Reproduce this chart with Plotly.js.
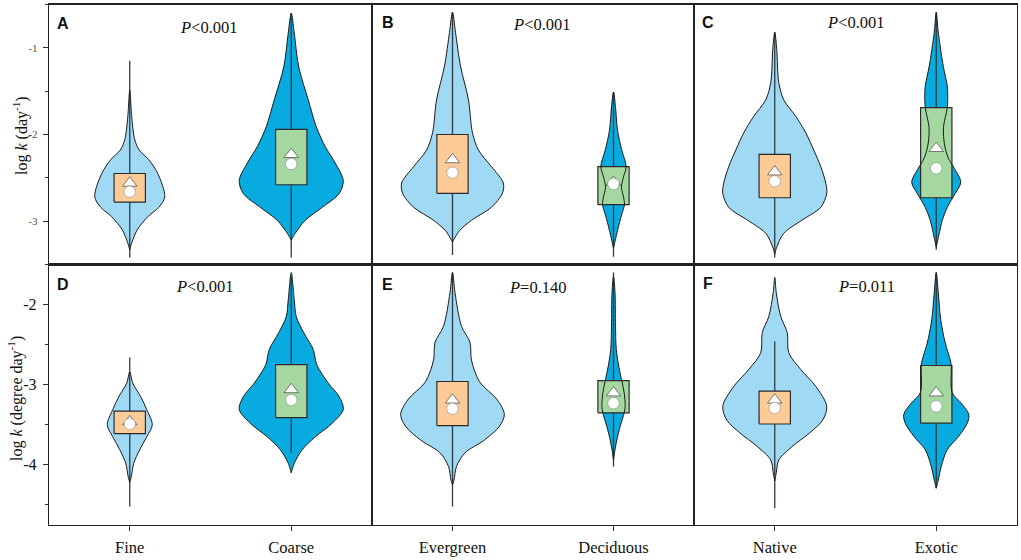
<!DOCTYPE html>
<html><head><meta charset="utf-8">
<script src="https://cdn.plot.ly/plotly-3.0.1.min.js"></script>
<style>html,body{margin:0;padding:0;background:#fff}#chart{width:1021px;height:560px}</style>
</head><body><div id="chart"></div>
<script>
// ---------- categories ----------
const catsCol1 = ['Fine', 'Coarse'];
const catsCol2 = ['Evergreen', 'Deciduous'];
const catsCol3 = ['Native', 'Exotic'];
const panelLetters = ['A', 'B', 'C', 'D', 'E', 'F'];
const pTexts = ['<i>P</i>&lt;0.001', '<i>P</i>&lt;0.001', '<i>P</i>&lt;0.001', '<i>P</i>&lt;0.001', '<i>P</i>=0.140', '<i>P</i>=0.011'];
const yTicksTop = [-3, -2, -1];
const yTickTextTop = ['-3', '-2', '-1'];
const yTicksBottom = [-4, -3, -2];
const yTickTextBottom = ['-4', '-3', '-2'];

// ---------- violin outlines (level, relative half-width) ----------
const vA1y = [-1.49, -1.80, -2.06, -2.18, -2.29, -2.45, -2.72, -2.84, -2.95, -3.10, -3.25, -3.33];
const vA1w = [0, 2, 5, 9.5, 19, 28, 35, 29, 18, 7.5, 2, 0];
const vA2y = [-0.60, -0.83, -1.22, -1.60, -1.91, -2.14, -2.33, -2.53, -2.68, -2.84, -2.99, -3.14, -3.22];
const vA2w = [0, 3, 7.5, 17, 25, 34, 44, 52, 48, 31, 14, 4, 0];
const vB1y = [-0.59, -0.82, -1.21, -1.60, -1.98, -2.18, -2.37, -2.56, -2.68, -2.84, -2.99, -3.11, -3.24];
const vB1w = [0, 3, 8, 16, 20, 26, 39, 51, 50, 39, 19, 7, 0];
const vB2y = [-1.51, -1.68, -1.95, -2.18, -2.37, -2.49, -2.61, -2.72, -2.81, -2.93, -3.11, -3.31];
const vB2w = [0, 2, 4, 8.3, 12.7, 10, 8, 10, 11, 8, 4, 0];
const vC1y = [-0.82, -1.02, -1.40, -1.60, -1.79, -1.98, -2.18, -2.37, -2.56, -2.68, -2.84, -2.99, -3.14, -3.30, -3.38];
const vC1w = [0, 2, 4, 9, 21, 31, 39, 46, 51, 52, 46, 27, 9, 2, 0];
const vC2y = [-0.59, -0.82, -1.21, -1.44, -1.54, -1.69, -1.92, -2.12, -2.27, -2.39, -2.55, -2.68, -2.84, -2.99, -3.14, -3.30];
const vC2w = [0, 2, 7, 11, 11.5, 11, 7.2, 8.3, 12, 18, 24.5, 19, 11, 6, 3, 0];
const vD1y = [-2.84, -2.98, -3.15, -3.31, -3.50, -3.65, -3.81, -3.98, -4.15, -4.22];
const vD1w = [0, 3, 11, 17, 22.5, 17, 10, 4, 1.5, 0];
const vD2y = [-1.60, -1.94, -2.15, -2.35, -2.56, -2.75, -2.98, -3.15, -3.31, -3.48, -3.65, -3.81, -3.98, -4.10];
const vD2w = [0, 3, 5, 12.5, 22, 25.5, 37, 48, 52, 41, 24, 11, 3, 0];
const vE1y = [-1.60, -1.85, -2.27, -2.47, -2.69, -2.96, -3.19, -3.37, -3.52, -3.69, -3.85, -4.02, -4.19, -4.25];
const vE1w = [0, 2.5, 9, 17.5, 19, 27, 45, 52, 47, 32, 12.5, 4, 1.5, 0];
const vE2y = [-1.65, -1.85, -2.27, -2.56, -2.77, -2.95, -3.10, -3.27, -3.35, -3.52, -3.69, -3.81, -3.94];
const vE2w = [0, 1.5, 2, 2.8, 5.3, 8.3, 10.7, 11.7, 10.7, 6.7, 3.3, 1.5, 0];
const vF1y = [-1.66, -1.85, -2.15, -2.35, -2.60, -2.81, -3.02, -3.27, -3.44, -3.60, -3.77, -3.94, -4.10, -4.20];
const vF1w = [0, 1.5, 6, 12.5, 14, 26, 41, 52, 48, 35, 17.5, 4, 1.5, 0];
const vF2y = [-1.60, -1.85, -2.19, -2.48, -2.69, -2.76, -3.10, -3.23, -3.37, -3.48, -3.65, -3.81, -4.02, -4.19, -4.29];
const vF2w = [0, 2, 4.5, 9, 14, 15, 16, 25, 32.5, 31, 22, 11, 5, 2, 0];

// ---------- box / summary values per panel [cat1, cat2] ----------
const q1A = [-2.78, -2.58], q3A = [-2.45, -1.94], triA = [-2.56, -2.23], cirA = [-2.66, -2.34], loA = [-3.42, -3.42], hiA = [-1.15, -0.60];
const q1B = [-2.68, -2.81], q3B = [-2.00, -2.37], triB = [-2.29, -2.55], cirB = [-2.44, -2.57], loB = [-3.39, -3.41], hiB = [-0.59, -1.51];
const q1C = [-2.73, -2.73], q3C = [-2.23, -1.69], triC = [-2.43, -2.16], cirC = [-2.54, -2.39], loC = [-3.42, -3.33], hiC = [-0.82, -0.59];
const q1D = [-3.61, -3.41], q3D = [-3.33, -2.75], triD = [-3.46, -3.06], cirD = [-3.49, -3.19], loD = [-4.52, -3.85], hiD = [-2.66, -1.65];
const q1E = [-3.51, -3.35], q3E = [-2.96, -2.95], triE = [-3.19, -3.10], cirE = [-3.30, -3.23], loE = [-4.52, -4.02], hiE = [-1.60, -1.60];
const q1F = [-3.49, -3.48], q3F = [-3.08, -2.76], triF = [-3.19, -3.10], cirF = [-3.29, -3.27], loF = [-4.54, -4.29], hiF = [-2.46, -1.60];

// ---------- styles ----------
const WSCALE = 1 / 161.5;      // relative width -> axis units
const BOXHW = 0.097;           // box half-width in axis units
const violinColors = ['#9fd9f3', '#07abe0'];
const boxColors = ['#fdcb98', '#a4d8a0'];
const SERIF = 'Liberation Serif, Times New Roman, serif';
const SANS = 'Liberation Sans, Arial, sans-serif';

const panels = [
  {xa: 'x',  ya: 'y',  vy: [vA1y, vA2y], vw: [vA1w, vA2w], q1: q1A, q3: q3A, tri: triA, cir: cirA, lo: loA, hi: hiA},
  {xa: 'x2', ya: 'y2', vy: [vB1y, vB2y], vw: [vB1w, vB2w], q1: q1B, q3: q3B, tri: triB, cir: cirB, lo: loB, hi: hiB},
  {xa: 'x3', ya: 'y3', vy: [vC1y, vC2y], vw: [vC1w, vC2w], q1: q1C, q3: q3C, tri: triC, cir: cirC, lo: loC, hi: hiC},
  {xa: 'x4', ya: 'y4', vy: [vD1y, vD2y], vw: [vD1w, vD2w], q1: q1D, q3: q3D, tri: triD, cir: cirD, lo: loD, hi: hiD},
  {xa: 'x5', ya: 'y5', vy: [vE1y, vE2y], vw: [vE1w, vE2w], q1: q1E, q3: q3E, tri: triE, cir: cirE, lo: loE, hi: hiE},
  {xa: 'x6', ya: 'y6', vy: [vF1y, vF2y], vw: [vF1w, vF2w], q1: q1F, q3: q3F, tri: triF, cir: cirF, lo: loF, hi: hiF}
];

function violinPath(c, ys, ws) {
  const xs = [], yy = [];
  for (let i = 0; i < ys.length; i++) { xs.push(c + ws[i] * WSCALE); yy.push(ys[i]); }
  for (let i = ys.length - 1; i >= 0; i--) { xs.push(c - ws[i] * WSCALE); yy.push(ys[i]); }
  return {xs, yy};
}

const traces = [];
panels.forEach(p => {
  for (let k = 0; k < 2; k++) {
    const c = k + 1;
    const vp = violinPath(c, p.vy[k], p.vw[k]);
    traces.push({type: 'scatter', mode: 'lines', xaxis: p.xa, yaxis: p.ya, x: vp.xs, y: vp.yy,
      fill: 'toself', fillcolor: violinColors[k], line: {width: 0, shape: 'spline', smoothing: 0.9}, hoverinfo: 'skip'});
    traces.push({type: 'scatter', mode: 'lines', xaxis: p.xa, yaxis: p.ya, x: [c, c], y: [p.lo[k], p.hi[k]],
      line: {color: '#2b3b44', width: 1.3}, hoverinfo: 'skip'});
    traces.push({type: 'scatter', mode: 'lines', xaxis: p.xa, yaxis: p.ya,
      x: [c - BOXHW, c + BOXHW, c + BOXHW, c - BOXHW, c - BOXHW],
      y: [p.q1[k], p.q1[k], p.q3[k], p.q3[k], p.q1[k]],
      fill: 'toself', fillcolor: boxColors[k], line: {color: '#2a2a2a', width: 1.2}, hoverinfo: 'skip'});
    traces.push({type: 'scatter', mode: 'lines', xaxis: p.xa, yaxis: p.ya, x: vp.xs, y: vp.yy,
      line: {color: '#1a1a1a', width: 1, shape: 'spline', smoothing: 0.9}, hoverinfo: 'skip'});
    traces.push({type: 'scatter', mode: 'markers', xaxis: p.xa, yaxis: p.ya, x: [c], y: [p.tri[k]],
      marker: {symbol: 'triangle-up', size: 12.5, color: '#ffffff', line: {color: '#444', width: 0.7}}, hoverinfo: 'skip'});
    traces.push({type: 'scatter', mode: 'markers', xaxis: p.xa, yaxis: p.ya, x: [c], y: [p.cir[k]],
      marker: {symbol: 'circle', size: 11.5, color: '#ffffff', line: {color: '#777', width: 0.5}}, hoverinfo: 'skip'});
  }
});

const W = 1021, H = 560;
const xDom = [[49 / W, 372 / W], [372 / W, 694 / W], [694 / W, 1017 / W]];
const yTop = [1 - 264.5 / H, 1 - 4.5 / H];
const yBot = [1 - 525 / H, 1 - 264.5 / H];
const colCats = [catsCol1, catsCol2, catsCol3];

const layout = {
  width: W, height: H, margin: {l: 0, r: 0, t: 0, b: 0},
  paper_bgcolor: '#fff', plot_bgcolor: '#fff', showlegend: false,
  annotations: []
};

for (let i = 0; i < 6; i++) {
  const col = i % 3, row = Math.floor(i / 3);
  const xs = i === 0 ? 'xaxis' : 'xaxis' + (i + 1);
  const ys = i === 0 ? 'yaxis' : 'yaxis' + (i + 1);
  const yname = i === 0 ? 'y' : 'y' + (i + 1);
  const xname = i === 0 ? 'x' : 'x' + (i + 1);
  layout[xs] = {
    domain: xDom[col], range: [0.5, 2.5], anchor: yname,
    showline: true, mirror: true, linecolor: '#222', linewidth: 1.2,
    showgrid: false, zeroline: false, fixedrange: true,
    tickmode: 'array', tickvals: [1, 2], ticktext: colCats[col],
    ticks: row === 1 ? 'outside' : '', ticklen: 5, tickwidth: 1, tickcolor: '#333',
    showticklabels: row === 1, ticklabelstandoff: 2,
    tickfont: {family: SERIF, size: 16.5, color: '#111'}
  };
  const isLeft = col === 0;
  const yax = {
    domain: row === 0 ? yTop : yBot,
    range: row === 0 ? [-3.5, -0.5] : [-4.75, -1.5], anchor: xname,
    showline: true, mirror: true, linecolor: '#222', linewidth: 1.2,
    showgrid: false, zeroline: false, fixedrange: true,
    tickmode: 'array', tickvals: row === 0 ? yTicksTop : yTicksBottom,
    ticktext: row === 0 ? yTickTextTop : yTickTextBottom,
    ticks: isLeft ? 'outside' : '', ticklen: 5, tickwidth: 1, tickcolor: '#333',
    showticklabels: isLeft, ticklabelstandoff: 3,
    tickfont: row === 0 ? {family: SERIF, size: 11, color: '#555'} : {family: SERIF, size: 16, color: '#111'}
  };
  if (isLeft) {
    yax.minor = {tickmode: 'array', tickvals: row === 0 ? [-3.5, -2.5, -1.5, -0.5] : [-4.5, -3.5, -2.5, -1.5],
      ticks: 'outside', ticklen: 3, tickwidth: 1, tickcolor: '#333'};
  }
  layout[ys] = yax;
}

const letterPos = [[63, 24], [387.5, 23], [707.5, 23], [63, 284], [387.5, 284], [707.5, 283]];
const pPos = [[208.5, 27], [542, 25], [856, 23], [205, 286], [537.5, 287], [866.5, 286]];
for (let i = 0; i < 6; i++) {
  layout.annotations.push({xref: 'paper', yref: 'paper', x: letterPos[i][0] / W, y: 1 - letterPos[i][1] / H,
    xanchor: 'center', yanchor: 'middle', showarrow: false, text: '<b>' + panelLetters[i] + '</b>',
    font: {family: SANS, size: 16, color: '#111'}});
  layout.annotations.push({xref: 'paper', yref: 'paper', x: pPos[i][0] / W, y: 1 - pPos[i][1] / H,
    xanchor: 'center', yanchor: 'middle', showarrow: false, text: pTexts[i],
    font: {family: SERIF, size: 16.5, color: '#111'}});
}
layout.annotations.push({xref: 'paper', yref: 'paper', x: 20 / W, y: 1 - 136 / H, xanchor: 'center', yanchor: 'middle',
  showarrow: false, textangle: -90, text: 'log <i>k</i> (day<sup>-1</sup>)', font: {family: SERIF, size: 16, color: '#111'}});
layout.annotations.push({xref: 'paper', yref: 'paper', x: 15 / W, y: 1 - 399 / H, xanchor: 'center', yanchor: 'middle',
  showarrow: false, textangle: -90, text: 'log <i>k</i> (degree day<sup>-1</sup>)', font: {family: SERIF, size: 16, color: '#111'}});

Plotly.newPlot('chart', traces, layout, {displayModeBar: false, staticPlot: true});
</script>
</body></html>
